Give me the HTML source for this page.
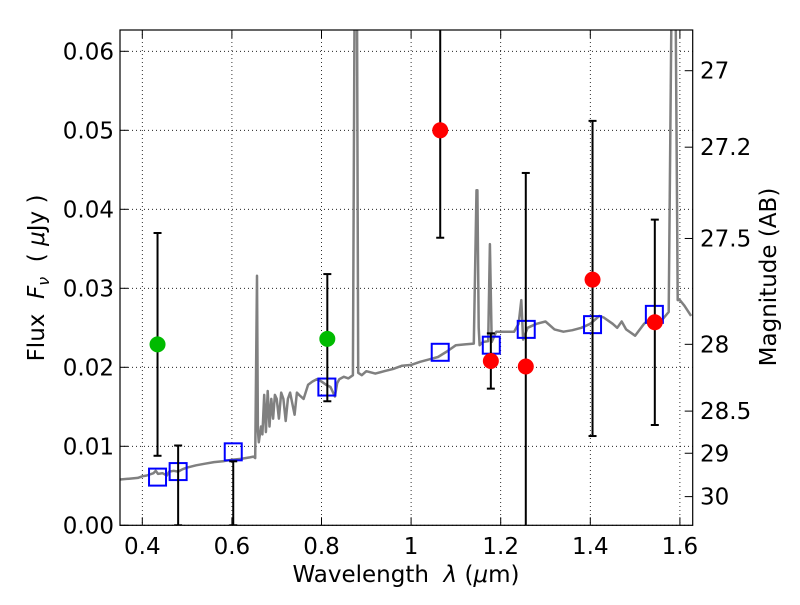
<!DOCTYPE html>
<html><head><meta charset="utf-8"><style>
body{margin:0;background:#fff}
svg{font-family:"DejaVu Sans","Liberation Sans",sans-serif}
</style></head><body>
<svg id="chart" width="800" height="600" xmlns="http://www.w3.org/2000/svg">
<defs><clipPath id="clip"><rect x="120" y="30" width="572.7" height="495.3"/></clipPath>
<clipPath id="clip2"><rect x="120" y="30" width="572.7" height="492"/></clipPath></defs>
<g id="grid"></g>
<g id="plot" clip-path="url(#clip)"></g>
<g id="plot2" clip-path="url(#clip2)"></g>
<rect x="120" y="30" width="572.7" height="495.3" fill="none" stroke="#000" stroke-width="1.2"/>
<g id="axes"></g>
<text x="406" y="582" font-size="23" text-anchor="middle" xml:space="preserve">Wavelength  <tspan font-style="italic">λ</tspan> (<tspan font-style="italic">μ</tspan>m)</text>
<text transform="translate(44,278) rotate(-90)" font-size="23" text-anchor="middle" xml:space="preserve">Flux  <tspan font-style="italic">F</tspan><tspan font-style="italic" font-size="16" dy="5">ν</tspan><tspan dy="-5">  ( </tspan><tspan font-style="italic">μ</tspan>Jy )</text>
<text transform="translate(776,277) rotate(-90)" font-size="23" text-anchor="middle">Magnitude (AB)</text>
</svg>
<script>
const xTicks=[0.4,0.6,0.8,1.0,1.2,1.4,1.6];
const xTickLabels=["0.4","0.6","0.8","1","1.2","1.4","1.6"];
const yTicks=[0,0.01,0.02,0.03,0.04,0.05,0.06];
const yTickLabels=["0.00","0.01","0.02","0.03","0.04","0.05","0.06"];
const magTicks=[27,27.2,27.5,28,28.5,29,30];
const magTickLabels=["27","27.2","27.5","28","28.5","29","30"];
const specLam=[0.35,0.37,0.39,0.40,0.41,0.425,0.43,0.435,0.445,0.455,0.46,0.47,0.48,0.49,0.50,0.52,0.54,0.56,0.58,0.60,0.62,0.64,0.648,0.652,0.654,0.656,0.658,0.66,0.665,0.668,0.672,0.676,0.68,0.684,0.688,0.692,0.696,0.70,0.705,0.71,0.715,0.72,0.725,0.73,0.74,0.745,0.75,0.76,0.77,0.78,0.79,0.80,0.81,0.82,0.83,0.835,0.84,0.85,0.86,0.87,0.874,0.876,0.879,0.882,0.89,0.90,0.92,0.94,0.96,0.98,1.00,1.02,1.04,1.06,1.08,1.10,1.12,1.14,1.146,1.148,1.151,1.153,1.16,1.172,1.176,1.18,1.19,1.21,1.23,1.24,1.246,1.25,1.26,1.28,1.30,1.32,1.34,1.36,1.38,1.40,1.42,1.43,1.45,1.46,1.47,1.48,1.50,1.52,1.54,1.56,1.575,1.582,1.586,1.59,1.595,1.60,1.61,1.625];
const specFlux=[0.0058,0.0059,0.0060,0.0062,0.0063,0.0066,0.0069,0.0065,0.0066,0.0063,0.0068,0.0069,0.0068,0.0071,0.0073,0.0076,0.0078,0.0080,0.0081,0.0083,0.0084,0.0086,0.0087,0.0085,0.0200,0.0316,0.0120,0.0105,0.0125,0.0115,0.0165,0.0118,0.0170,0.0125,0.0160,0.0135,0.0165,0.0160,0.0135,0.0168,0.0160,0.0132,0.0160,0.0168,0.0140,0.0168,0.0165,0.0160,0.0178,0.0182,0.0185,0.0182,0.0178,0.0175,0.0163,0.0180,0.0185,0.0188,0.0186,0.0190,0.0700,0.0700,0.0700,0.0193,0.0190,0.0195,0.0192,0.0195,0.0198,0.0202,0.0203,0.0207,0.0210,0.0213,0.0220,0.0228,0.0229,0.0230,0.0424,0.0424,0.0250,0.0228,0.0232,0.0233,0.0356,0.0232,0.0245,0.0245,0.0245,0.0255,0.0285,0.0235,0.0250,0.0255,0.0258,0.0248,0.0245,0.0247,0.0250,0.0255,0.0265,0.0263,0.0255,0.0250,0.0258,0.0248,0.0240,0.0255,0.0265,0.0260,0.0270,0.0700,0.0700,0.0700,0.0285,0.0285,0.0278,0.0265];
const greenLam=[0.434,0.48,0.603,0.813];
const greenFlux=[0.0229,0,0,0.0236];
const greenLo=[0.0088,0,0,0.0157];
const greenHi=[0.0370,0.0101,0.0081,0.0318];
const redLam=[1.065,1.178,1.256,1.405,1.544];
const redFlux=[0.0500,0.0208,0.0201,0.0311,0.0257];
const redLo=[0.0364,0.0173,-0.01,0.0113,0.0127];
const redHi=[0.0700,0.0243,0.0446,0.0512,0.0387];
const modelLam=[0.434,0.48,0.603,0.812,1.065,1.179,1.257,1.405,1.543];
const modelFlux=[0.0061,0.0068,0.0093,0.0175,0.0219,0.0228,0.0248,0.0254,0.0267];

const NS="http://www.w3.org/2000/svg";
const X=l=>142.3+(l-0.4)*448;
const Y=f=>525.3-f*7900;
const magToY=m=>Y(Math.pow(10,(23.9-m)/2.5));
function mk(tag,attrs,parent){const e=document.createElementNS(NS,tag);for(const k in attrs)e.setAttribute(k,attrs[k]);parent.appendChild(e);return e;}
const grid=document.getElementById('grid'),plot=document.getElementById('plot'),plot2=document.getElementById('plot2'),axes=document.getElementById('axes');
xTicks.forEach((t,i)=>{
 const g=mk('line',{x1:X(t),x2:X(t),y1:30,y2:525.3,stroke:'#000','stroke-width':0.8,'stroke-dasharray':'1,3'},grid);
 
 const a=mk('line',{x1:X(t),x2:X(t),y1:525.3,y2:517.3,stroke:'#000'},axes);
 
 const b=mk('line',{x1:X(t),x2:X(t),y1:30,y2:38,stroke:'#000'},axes);
 
 const tx=mk('text',{x:X(t),y:554,'font-size':23,'text-anchor':'middle'},axes);tx.textContent=xTickLabels[i];
 
});
yTicks.forEach((t,i)=>{
 const g=mk('line',{x1:120,x2:692.7,y1:Y(t),y2:Y(t),stroke:'#000','stroke-width':0.8,'stroke-dasharray':'1,3'},grid);
 
 const a=mk('line',{x1:120,x2:128,y1:Y(t),y2:Y(t),stroke:'#000'},axes);
 
 const tx=mk('text',{x:114,y:Y(t)+8,'font-size':23,'text-anchor':'end'},axes);tx.textContent=yTickLabels[i];
 
});
magTicks.forEach((m,i)=>{
 const y=magToY(m);
 const a=mk('line',{x1:692.7,x2:684.7,y1:y,y2:y,stroke:'#000'},axes);
 
 const tx=mk('text',{x:700,y:y+8,'font-size':23},axes);tx.textContent=magTickLabels[i];
 
});
const pts=specLam.map((l,i)=>X(l).toFixed(1)+','+Y(specFlux[i]).toFixed(1)).join(' ');
const sp=mk('polyline',{points:pts,fill:'none',stroke:'#808080','stroke-width':2.5,'stroke-linejoin':'round'},plot);

function errbar(l,lo,hi,name){
 const x=X(l);
 const e=mk('line',{x1:x,x2:x,y1:Y(lo),y2:Y(hi),stroke:'#000','stroke-width':2},plot);
 
 [lo,hi].forEach(v=>{const c=mk('line',{x1:x-4,x2:x+4,y1:Y(v),y2:Y(v),stroke:'#000','stroke-width':2},plot);
 });
}
modelLam.forEach((l,i)=>{
 const r=mk('rect',{x:X(l)-8.5,y:Y(modelFlux[i])-8.5,width:17,height:17,fill:'none',stroke:'#0000ff','stroke-width':2},plot);
 
});
greenLam.forEach((l,i)=>{
 errbar(l,greenLo[i],greenHi[i],'green-error-bar');
 const c=mk('circle',{cx:X(l),cy:Y(greenFlux[i])+(greenFlux[i]===0?6:0),r:8,fill:'#00bb00'},plot2);
 
});
redLam.forEach((l,i)=>{
 errbar(l,redLo[i],redHi[i],'red-error-bar');
 const c=mk('circle',{cx:X(l),cy:Y(redFlux[i]),r:8,fill:'#ff0000'},plot2);
 
});
</script>
</body></html>
